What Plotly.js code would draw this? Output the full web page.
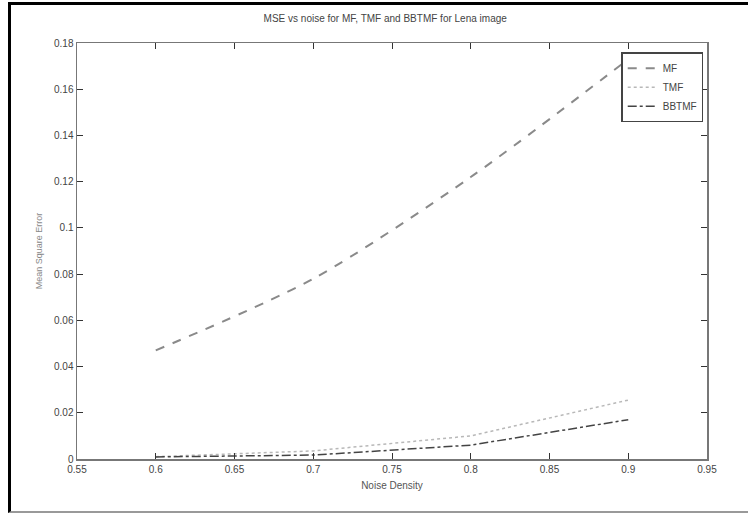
<!DOCTYPE html>
<html>
<head>
<meta charset="utf-8">
<script src="https://cdn.plot.ly/plotly-3.0.1.min.js"></script>
<style>
html,body{margin:0;padding:0;background:#fff;}
#wrap{position:relative;width:748px;height:517px;}
#chart{width:748px;height:517px;}
#frame{position:absolute;left:8px;top:2px;width:740px;height:511px;border-left:3px solid #000;border-top:3px solid #000;border-bottom:2px solid #999;pointer-events:none;box-sizing:border-box;}
</style>
</head>
<body>
<div id="wrap">
<div id="chart"></div>
<div id="frame"></div>
</div>
<script>
const noiseDensity = [0.6, 0.7, 0.8, 0.9];
const mfMSE = [0.047, 0.078, 0.122, 0.173];
const tmfMSE = [0.001, 0.0035, 0.010, 0.0255];
const bbtmfMSE = [0.0009, 0.0017, 0.006, 0.017];
const seriesNames = ['MF', 'TMF', 'BBTMF'];
const xTicks = [0.55, 0.6, 0.65, 0.7, 0.75, 0.8, 0.85, 0.9, 0.95];
const yTicks = [0, 0.02, 0.04, 0.06, 0.08, 0.1, 0.12, 0.14, 0.16, 0.18];

const traces = [
  {x: noiseDensity, y: mfMSE, name: seriesNames[0], mode: 'lines',
   line: {color: '#8a8a8a', width: 2, dash: 'dash', shape: 'spline', smoothing: 0.8}},
  {x: noiseDensity, y: tmfMSE, name: seriesNames[1], mode: 'lines',
   line: {color: '#b8b8b8', width: 1.5, dash: 'dot'}},
  {x: noiseDensity, y: bbtmfMSE, name: seriesNames[2], mode: 'lines',
   line: {color: '#444', width: 1.5, dash: 'dashdot'}}
];

const fontFam = 'Liberation Sans Narrow, Arial Narrow, Liberation Sans, Arial, sans-serif';
const layout = {
  width: 748, height: 517,
  margin: {l: 77, r: 41, t: 43, b: 58},
  paper_bgcolor: '#fff', plot_bgcolor: '#fff',
  font: {family: fontFam, size: 10, color: '#444'},
  title: {text: 'MSE vs noise for MF, TMF and BBTMF for Lena image', x: 0.515, xanchor: 'center', y: 0.965, yanchor: 'middle', font: {size: 10, color: '#444', family: fontFam}},
  xaxis: {
    range: [0.55, 0.95], tickvals: xTicks, ticktext: xTicks.map(String),
    showgrid: false, zeroline: false, showline: true, linecolor: '#777', linewidth: 1.5,
    mirror: 'ticks', ticks: 'inside', ticklen: 6, tickcolor: '#333',
    tickfont: {size: 10, color: '#444'},
    title: {text: 'Noise Density', font: {size: 10, color: '#555'}, standoff: 8}
  },
  yaxis: {
    range: [0, 0.18], tickvals: yTicks, ticktext: yTicks.map(String),
    showgrid: false, zeroline: false, showline: true, linecolor: '#777', linewidth: 1.5,
    mirror: 'ticks', ticks: 'inside', ticklen: 6, tickcolor: '#333',
    tickfont: {size: 10, color: '#444'},
    title: {text: 'Mean Square Error', font: {size: 9, color: '#888'}, standoff: 10}
  },
  showlegend: true,
  legend: {x: 0.994, y: 0.978, xanchor: 'right', yanchor: 'top',
    bordercolor: '#444', borderwidth: 1.5, bgcolor: '#fff',
    font: {size: 10, color: '#444'}, tracegroupgap: 2, itemwidth: 30}
};

Plotly.newPlot('chart', traces, layout, {displayModeBar: false, staticPlot: true});
</script>
</body>
</html>
